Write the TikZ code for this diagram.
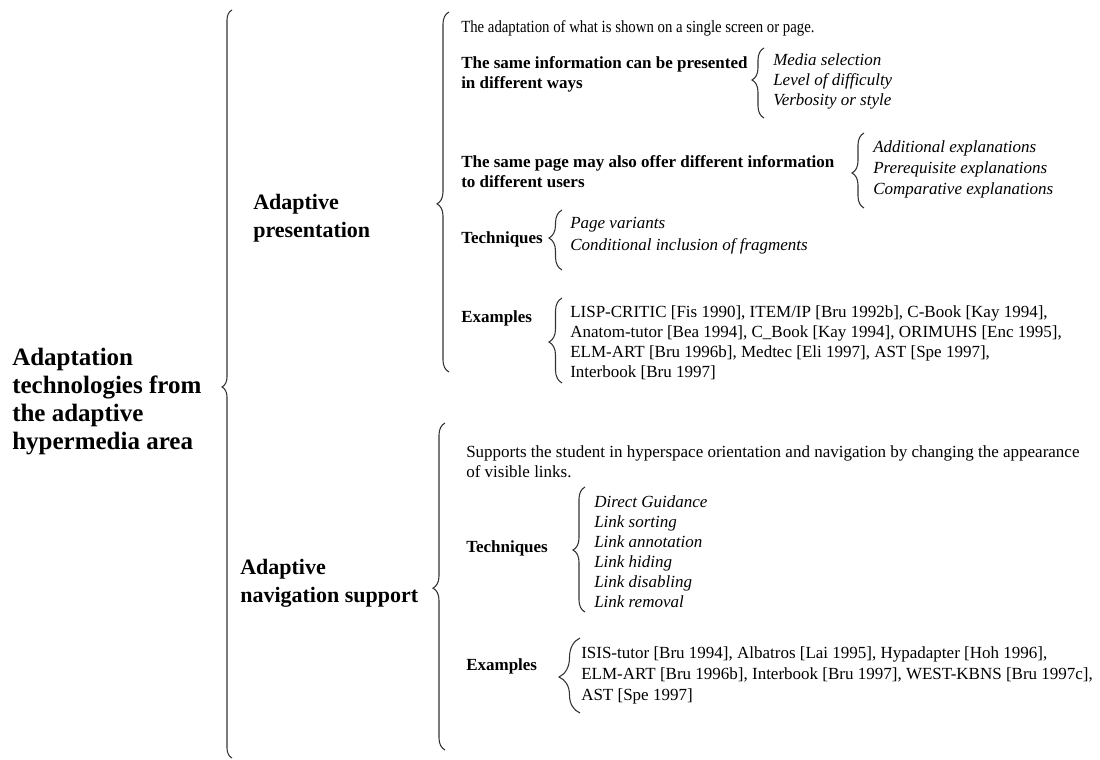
\documentclass[tikz,border=0pt]{standalone}
\usepackage{fontspec}
\setmainfont{Liberation Serif}
\newfontfamily\narrowserif[FakeStretch=0.87]{Liberation Serif}
\usetikzlibrary{decorations.pathreplacing}
\begin{document}
\begin{tikzpicture}[x=0.75pt,y=-0.75pt,
  txt/.style={inner sep=0pt, anchor=base west, align=left, font=\fontsize{12.75}{15}\selectfont},
  bodybf/.style={txt, font=\fontsize{12.75}{15}\selectfont\bfseries},
  item/.style={txt, font=\fontsize{12.75}{#1}\selectfont\itshape},
  item/.default=15,
  head/.style={inner sep=0pt, anchor=base west, align=left, font=\fontsize{16.5}{20.5}\selectfont\bfseries},
  root/.style={inner sep=0pt, anchor=base west, align=left, font=\fontsize{18.75}{21}\selectfont\bfseries},
  curly/.style 2 args={draw=black!80, line width=0.8pt, decorate,
    decoration={brace, amplitude=#1, aspect=#2}}
]
\useasboundingbox[fill=white] (0,0) rectangle (1100,760);

% ---- root and the two branches (multi-line nodes sit on their last baseline)
\node[root] (root) at (12,449) {Adaptation\\technologies from\\the adaptive\\hypermedia area};
\node[head] (pres) at (253,237) {Adaptive\\presentation};
\node[head] (nav) at (240,602) {Adaptive\\navigation support};

\coordinate (rootT) at (232,10);  \coordinate (rootB) at (232,758);
\draw[curly={7.5pt}{0.496}] (rootB) -- (rootT);

% ---- adaptive presentation
\coordinate (presT) at (449,12);  \coordinate (presB) at (449,372);
\draw[curly={9pt}{0.467}] (presB) -- (presT);

\node[txt, font=\fontsize{12.75}{15}\narrowserif] (pdef) at (461,32) {The adaptation of what is shown on a single screen or page.};

\node[bodybf] (same) at (461,88) {The same information can be presented\\in different ways};
\coordinate (sameT) at (764,48);  \coordinate (sameB) at (764,118);
\draw[curly={9pt}{0.543}] (sameB) -- (sameT);
\node[item] (sameI) at (773,105) {Media selection\\Level of difficulty\\Verbosity or style};

\node[bodybf] (page) at (461,187) {The same page may also offer different information\\to different users};
\coordinate (pageT) at (864,133);  \coordinate (pageB) at (864,208);
\draw[curly={9pt}{0.467}] (pageB) -- (pageT);
\node[item=15.75] (pageI) at (873,194) {Additional explanations\\Prerequisite explanations\\Comparative explanations};

\node[bodybf] (ptech) at (461,243) {Techniques};
\coordinate (ptechT) at (562,210);  \coordinate (ptechB) at (562,270);
\draw[curly={9.75pt}{0.533}] (ptechB) -- (ptechT);
\node[item=16.5] (ptechI) at (570,250) {Page variants\\Conditional inclusion of fragments};

\node[bodybf] (pex) at (461,322) {Examples};
\coordinate (pexT) at (562,298);  \coordinate (pexB) at (562,383);
\draw[curly={9.75pt}{0.482}] (pexB) -- (pexT);
\node[txt] (pexI) at (570,377) {LISP-CRITIC [Fis 1990], ITEM/IP [Bru 1992b], C-Book [Kay 1994],\\Anatom-tutor [Bea 1994], C\_Book [Kay 1994], ORIMUHS [Enc 1995],\\ELM-ART [Bru 1996b], Medtec [Eli 1997], AST [Spe 1997],\\Interbook [Bru 1997]};

% ---- adaptive navigation support
\coordinate (navT) at (445,423);  \coordinate (navB) at (445,750);
\draw[curly={9pt}{0.495}] (navB) -- (navT);

\node[txt] (ndef) at (466,477) {Supports the student in hyperspace orientation and navigation by changing the appearance\\of visible links.};

\node[bodybf] (ntech) at (466,552) {Techniques};
\coordinate (ntechT) at (585,487);  \coordinate (ntechB) at (585,612);
\draw[curly={9pt}{0.496}] (ntechB) -- (ntechT);
\node[item] (ntechI) at (594,607) {Direct Guidance\\Link sorting\\Link annotation\\Link hiding\\Link disabling\\Link removal};

\node[bodybf] (nex) at (466,670) {Examples};
\coordinate (nexT) at (580,638);  \coordinate (nexB) at (580,713);
\draw[curly={15.75pt}{0.48}] (nexB) -- (nexT);
\node[txt, font=\fontsize{12.75}{15.75}\selectfont] (nexI) at (581,700) {ISIS-tutor [Bru 1994], Albatros [Lai 1995], Hypadapter [Hoh 1996],\\ELM-ART [Bru 1996b], Interbook [Bru 1997], WEST-KBNS [Bru 1997c],\\AST [Spe 1997]};
\end{tikzpicture}
\end{document}
